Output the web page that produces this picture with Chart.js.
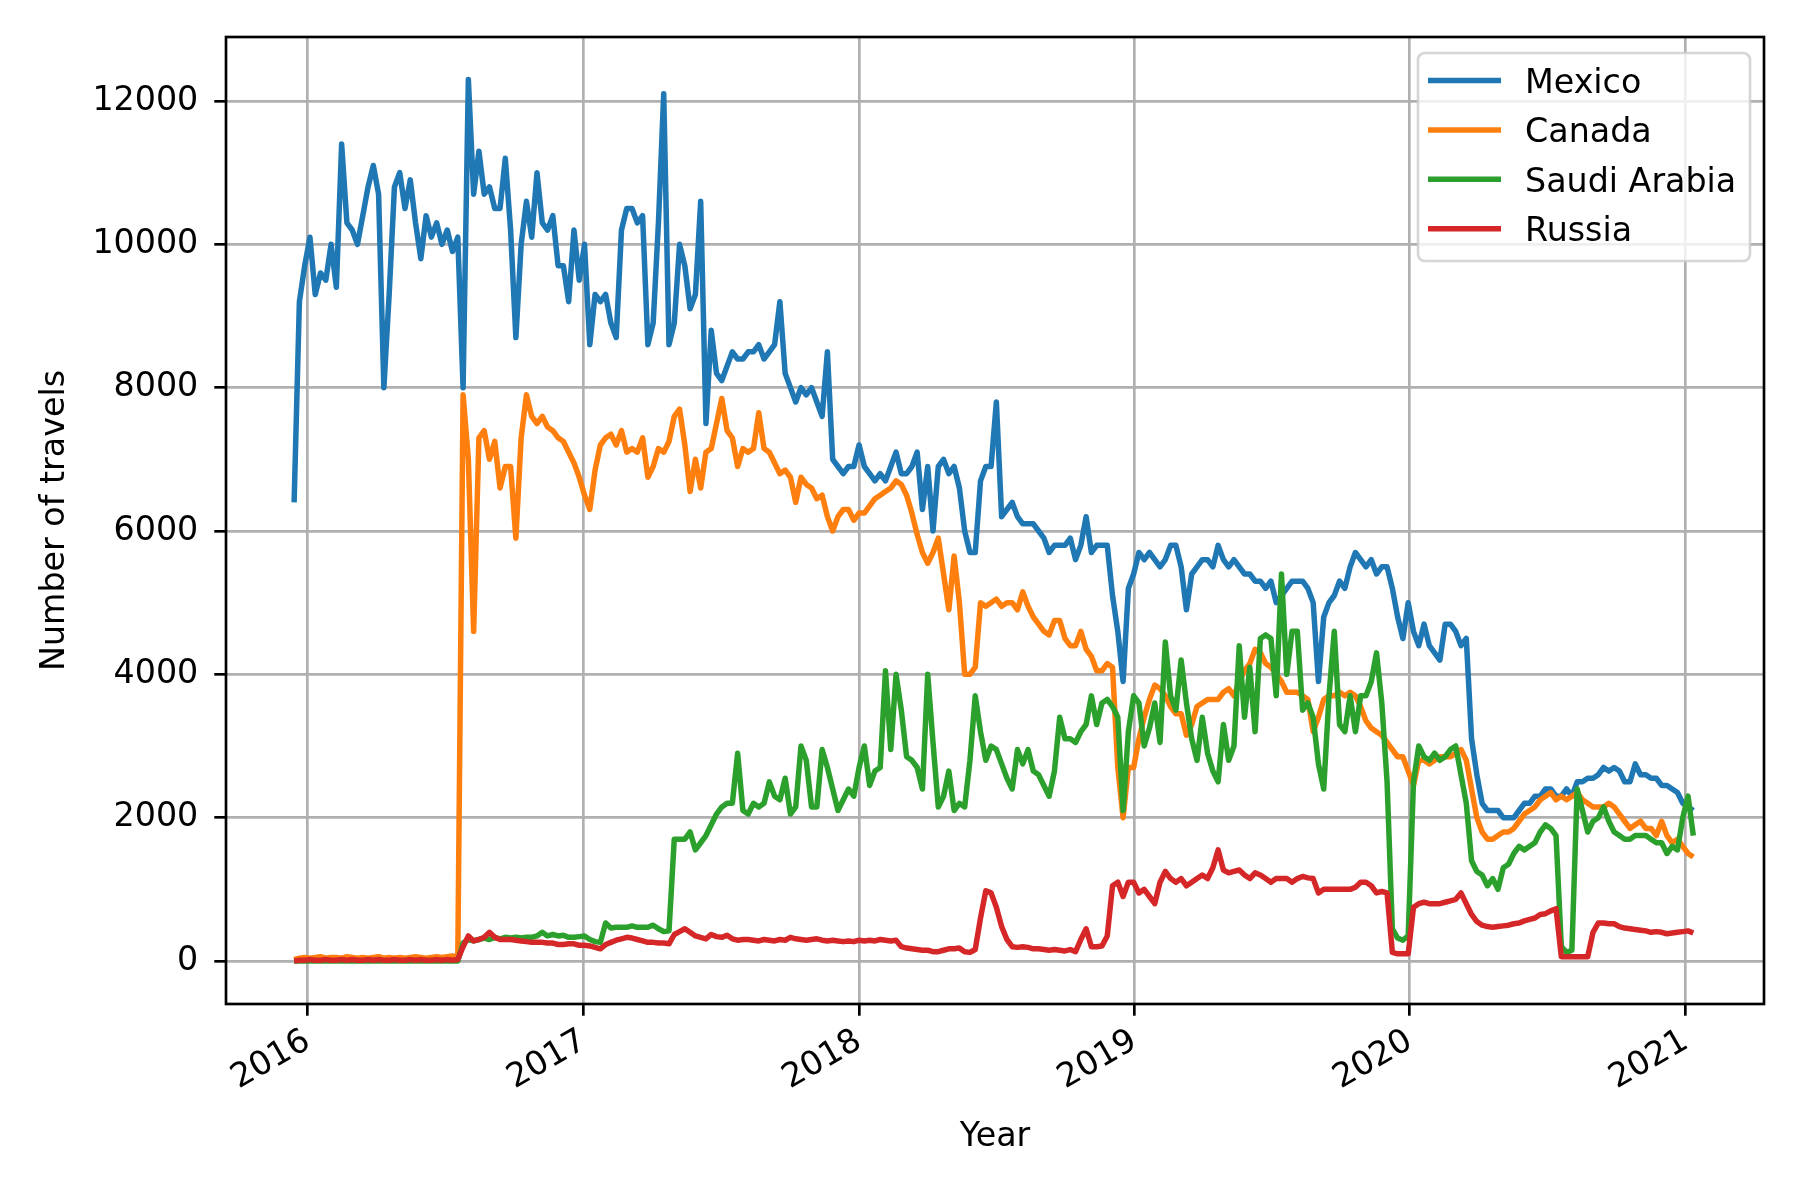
<!DOCTYPE html>
<html>
<head>
<meta charset="utf-8">
<script src="https://cdn.jsdelivr.net/npm/chart.js@4.4.1/dist/chart.umd.min.js"></script>
<style>
  body { margin: 0; background: #fff; }
  canvas { display: block; }
</style>
</head>
<body>
<canvas id="travelChart" width="1800" height="1200"></canvas>
<script>
// weekly samples starting 2015-12-14
const startDate = '2015-12-14'
const seriesNames = ['Mexico', 'Canada', 'Saudi Arabia', 'Russia']
const seriesColors = ['#1f77b4', '#ff7f0e', '#2ca02c', '#d62728']
const yearTicks = [2016, 2017, 2018, 2019, 2020, 2021]
const valueTicks = [0, 2000, 4000, 6000, 8000, 10000, 12000]

const mexico = [
  6400, 9200, 9700, 10100, 9300, 9600, 9500, 10000, 9400, 11400,
  10300, 10200, 10000, 10400, 10800, 11100, 10700, 8000, 9300, 10800,
  11000, 10500, 10900, 10300, 9800, 10400, 10100, 10300, 10000, 10200,
  9900, 10100, 8000, 12300, 10700, 11300, 10700, 10800, 10500, 10500,
  11200, 10200, 8700, 10000, 10600, 10100, 11000, 10300, 10200, 10400,
  9700, 9700, 9200, 10200, 9500, 10000, 8600, 9300, 9200, 9300,
  8900, 8700, 10200, 10500, 10500, 10300, 10400, 8600, 8900, 10300,
  12100, 8600, 8900, 10000, 9700, 9100, 9300, 10600, 7500, 8800,
  8200, 8100, 8300, 8500, 8400, 8400, 8500, 8500, 8600, 8400,
  8500, 8600, 9200, 8200, 8000, 7800, 8000, 7900, 8000, 7800,
  7600, 8500, 7000, 6900, 6800, 6900, 6900, 7200, 6900, 6800,
  6700, 6800, 6700, 6900, 7100, 6800, 6800, 6900, 7100, 6300,
  6900, 6000, 6900, 7000, 6800, 6900, 6600, 6000, 5700, 5700,
  6700, 6900, 6900, 7800, 6200, 6300, 6400, 6200, 6100, 6100,
  6100, 6000, 5900, 5700, 5800, 5800, 5800, 5900, 5600, 5800,
  6200, 5700, 5800, 5800, 5800, 5100, 4600, 3900, 5200, 5400,
  5700, 5600, 5700, 5600, 5500, 5600, 5800, 5800, 5500, 4900,
  5400, 5500, 5600, 5600, 5500, 5800, 5600, 5500, 5600, 5500,
  5400, 5400, 5300, 5300, 5200, 5300, 5000, 5100, 5200, 5300,
  5300, 5300, 5200, 5000, 3900, 4800, 5000, 5100, 5300, 5200,
  5500, 5700, 5600, 5500, 5600, 5400, 5500, 5500, 5200, 4800,
  4500, 5000, 4600, 4400, 4700, 4400, 4300, 4200, 4700, 4700,
  4600, 4400, 4500, 3100, 2600, 2200, 2100, 2100, 2100, 2000,
  2000, 2000, 2100, 2200, 2200, 2300, 2300, 2400, 2400, 2300,
  2300, 2400, 2300, 2500, 2500, 2550, 2550, 2600, 2700, 2650,
  2700, 2650, 2500, 2500, 2750, 2600, 2600, 2550, 2550, 2450,
  2450, 2400, 2350, 2200, 2150, 2100
]

const canada = [
  20, 40, 50, 40, 50, 60, 40, 50, 50, 40,
  60, 50, 40, 50, 40, 50, 60, 40, 50, 40,
  50, 40, 50, 60, 50, 40, 50, 60, 50, 60,
  70, 50, 7900, 7000, 4600, 7300, 7400, 7000, 7250, 6600,
  6900, 6900, 5900, 7300, 7900, 7600, 7500, 7600, 7450, 7400,
  7300, 7250, 7100, 6950, 6750, 6500, 6300, 6850, 7200, 7300,
  7350, 7200, 7400, 7100, 7150, 7100, 7300, 6750, 6900, 7150,
  7100, 7250, 7600, 7700, 7200, 6550, 7000, 6600, 7100, 7150,
  7500, 7850, 7400, 7300, 6900, 7150, 7100, 7150, 7650, 7150,
  7100, 6950, 6800, 6850, 6750, 6400, 6750, 6650, 6600, 6450,
  6500, 6200, 6000, 6200, 6300, 6300, 6150, 6250, 6250, 6350,
  6450, 6500, 6550, 6600, 6700, 6650, 6500, 6250, 5950, 5700,
  5550, 5700, 5900, 5400, 4900, 5650, 5000, 4000, 4000, 4100,
  5000, 4950, 5000, 5050, 4950, 5000, 5000, 4900, 5150, 4950,
  4800, 4700, 4600, 4550, 4750, 4750, 4500, 4400, 4400, 4600,
  4350, 4250, 4050, 4050, 4150, 4100, 2700, 2000, 2700, 2700,
  3100, 3400, 3650, 3850, 3800, 3700, 3550, 3450, 3450, 3150,
  3300, 3550, 3600, 3650, 3650, 3650, 3750, 3800, 3700, 3900,
  4050, 4150, 4350, 4300, 4150, 4100, 4000, 3900, 3750, 3750,
  3750, 3700, 3650, 3200, 3400, 3650, 3700, 3700, 3750, 3700,
  3750, 3700, 3550, 3350, 3250, 3200, 3150, 3050, 2950, 2850,
  2850, 2650, 2450, 2800, 2800, 2750, 2800, 2850, 2850, 2850,
  2900, 2950, 2800, 2400, 2000, 1800, 1700, 1700, 1750, 1800,
  1800, 1850, 1950, 2050, 2100, 2150, 2250, 2300, 2350, 2250,
  2300, 2250, 2300, 2350, 2250, 2200, 2150, 2150, 2150, 2200,
  2150, 2050, 1950, 1850, 1900, 1950, 1850, 1850, 1750, 1950,
  1750, 1650, 1700, 1600, 1500, 1450
]

const saudiArabia = [
  0, 0, 0, 0, 0, 0, 0, 0, 0, 0,
  0, 0, 0, 0, 0, 0, 0, 0, 0, 0,
  0, 0, 0, 0, 0, 0, 0, 0, 0, 0,
  0, 0, 250, 300, 280, 300, 320, 300, 330, 310,
  330, 320, 330, 320, 330, 330, 350, 400, 350, 370,
  350, 360, 330, 330, 340, 350, 300, 270, 260, 530,
  460, 470, 470, 470, 490, 470, 470, 470, 500, 450,
  410, 420, 1700, 1700, 1700, 1800, 1550, 1650, 1750, 1900,
  2050, 2150, 2200, 2200, 2900, 2100, 2050, 2200, 2150, 2200,
  2500, 2300, 2250, 2550, 2050, 2150, 3000, 2800, 2150, 2150,
  2950, 2700, 2400, 2100, 2250, 2400, 2300, 2700, 3000, 2450,
  2650, 2700, 4050, 2950, 4000, 3500, 2850, 2800, 2700, 2400,
  4000, 3050, 2150, 2300, 2650, 2100, 2200, 2150, 2800, 3700,
  3200, 2800, 3000, 2950, 2750, 2550, 2400, 2950, 2750, 2950,
  2650, 2600, 2450, 2300, 2650, 3400, 3100, 3100, 3050, 3200,
  3300, 3700, 3300, 3600, 3650, 3550, 3400, 2100, 3200, 3700,
  3600, 3000, 3250, 3600, 3050, 4450, 3700, 3500, 4200, 3600,
  3100, 2800, 3400, 2900, 2650, 2500, 3300, 2800, 3000, 4400,
  3400, 4100, 3200, 4500, 4550, 4500, 3700, 5400, 4000, 4600,
  4600, 3500, 3600, 3400, 2750, 2400, 3700, 4600, 3300, 3200,
  3700, 3200, 3700, 3700, 3900, 4300, 3600, 2500, 450, 320,
  290, 350, 2500, 3000, 2850, 2800, 2900, 2800, 2850, 2950,
  3000, 2600, 2200, 1400, 1250, 1200, 1050, 1150, 1000, 1300,
  1350, 1500, 1600, 1550, 1600, 1650, 1800, 1900, 1850, 1750,
  200, 120, 150, 2400, 2100, 1800, 1950, 2000, 2150, 1950,
  1800, 1750, 1700, 1700, 1750, 1750, 1750, 1700, 1650, 1650,
  1500, 1600, 1550, 2000, 2300, 1750
]

const russia = [
  0, 10, 10, 20, 10, 10, 20, 10, 10, 20,
  10, 20, 10, 10, 20, 10, 20, 10, 10, 20,
  10, 10, 20, 10, 20, 10, 10, 20, 10, 20,
  10, 20, 200, 350, 280, 300, 330, 400, 330, 300,
  300, 300, 290, 280, 270, 260, 260, 260, 250, 250,
  230, 230, 240, 240, 220, 220, 210, 190, 170, 230,
  260, 290, 310, 330, 320, 300, 280, 260, 260, 250,
  250, 240, 370, 410, 450, 400, 350, 330, 310, 370,
  340, 330, 360, 310, 290, 300, 300, 290, 280, 300,
  290, 280, 300, 290, 330, 310, 300, 290, 300, 310,
  290, 280, 290, 280, 270, 280, 270, 290, 280, 290,
  280, 300, 290, 280, 290, 200, 180, 170, 160, 150,
  150, 130, 130, 150, 170, 170, 180, 130, 120, 160,
  600, 980, 950, 750, 480, 300, 200, 190, 200, 190,
  170, 170, 160, 150, 160, 150, 140, 160, 130, 300,
  450, 200, 200, 210, 350, 1050, 1100, 900, 1100, 1100,
  950, 1000, 900, 800, 1100, 1250, 1150, 1100, 1150, 1050,
  1100, 1150, 1200, 1150, 1300, 1550, 1270, 1230, 1250, 1270,
  1200, 1150, 1230, 1200, 1150, 1100, 1150, 1150, 1150, 1100,
  1150, 1180, 1160, 1150, 950, 1000, 1000, 1000, 1000, 1000,
  1000, 1030, 1100, 1100, 1050, 950, 970, 950, 120, 100,
  100, 100, 750, 800, 820, 800, 800, 800, 820, 840,
  860, 950, 800, 650, 550, 500, 480, 470, 480, 490,
  500, 520, 530, 560, 580, 600, 650, 660, 700, 730,
  60, 60, 60, 60, 60, 60, 400, 530, 530, 520,
  520, 480, 460, 450, 440, 430, 420, 400, 410, 400,
  380, 390, 400, 410, 420, 390
]

const DAY = 86400000
const dayOf = (y, m = 0, d = 1) => Date.UTC(y, m, d) / DAY
const firstDay = Date.parse(startDate) / DAY
const weekDays = mexico.map((_, i) => firstDay + 7 * i)

const toPoints = values => values.map((v, i) => ({ x: weekDays[i], y: v }))
const allSeries = [mexico, canada, saudiArabia, russia]

const FONT = 'DejaVu Sans'
const FS = 33.3
const LW = 2.67

const whiteBg = {
  id: 'whiteBg',
  beforeDraw(chart) {
    const ctx = chart.ctx
    ctx.save()
    ctx.fillStyle = '#fff'
    ctx.fillRect(0, 0, chart.width, chart.height)
    ctx.restore()
  }
}

const frame = {
  id: 'frame',
  afterDatasetsDraw(chart) {
    const { ctx, chartArea: a } = chart
    ctx.save()
    ctx.strokeStyle = '#000'
    ctx.lineWidth = LW
    ctx.strokeRect(a.left, a.top, a.right - a.left, a.bottom - a.top)
    ctx.restore()
  }
}

const boxLegend = {
  id: 'boxLegend',
  afterDraw(chart) {
    const { ctx, chartArea: a } = chart
    const w = 332
    const h = 208
    const x = a.right - 14 - w
    const y = a.top + 16
    ctx.save()
    ctx.beginPath()
    ctx.roundRect(x, y, w, h, 6.7)
    ctx.fillStyle = 'rgba(255,255,255,0.8)'
    ctx.fill()
    ctx.lineWidth = LW
    ctx.strokeStyle = 'rgba(204,204,204,0.8)'
    ctx.stroke()
    ctx.font = `${FS}px "${FONT}"`
    ctx.textBaseline = 'alphabetic'
    ctx.textAlign = 'left'
    chart.data.datasets.forEach((ds, i) => {
      const rowY = y + 27.5 + i * 49.4
      ctx.beginPath()
      ctx.moveTo(x + 10, rowY)
      ctx.lineTo(x + 83, rowY)
      ctx.strokeStyle = ds.borderColor
      ctx.lineWidth = 5.5
      ctx.lineCap = 'butt'
      ctx.stroke()
      ctx.fillStyle = '#000'
      ctx.fillText(ds.label, x + 107, rowY + 12.2)
    })
    ctx.restore()
  }
}

new Chart(document.getElementById('travelChart'), {
  type: 'line',
  data: {
    datasets: seriesNames.map((name, i) => ({
      label: name,
      data: toPoints(allSeries[i]),
      borderColor: seriesColors[i],
      backgroundColor: seriesColors[i],
      borderWidth: 5.5,
      pointRadius: 0,
      tension: 0,
      fill: false,
      borderJoinStyle: 'round',
      order: seriesNames.length - i
    }))
  },
  options: {
    responsive: false,
    animation: false,
    devicePixelRatio: 1,
    layout: { padding: { top: 37, right: 36, left: 0, bottom: 0 } },
    plugins: {
      legend: { display: false },
      tooltip: { enabled: false }
    },
    scales: {
      x: {
        type: 'linear',
        min: 16692.7,
        max: 18731.7,
        afterBuildTicks: s => { s.ticks = yearTicks.map(y => ({ value: dayOf(y) })) },
        afterFit: s => { s.height = 196 },
        border: { display: false },
        grid: { color: '#b0b0b0', lineWidth: LW, tickColor: '#000', tickLength: 11.7, tickWidth: LW },
        ticks: {
          autoSkip: false,
          minRotation: 30,
          maxRotation: 30,
          padding: 6,
          color: '#000',
          font: { family: FONT, size: FS },
          callback: v => String(new Date(v * DAY).getUTCFullYear())
        },
        title: {
          display: true,
          text: 'Year',
          color: '#000',
          font: { family: FONT, size: FS },
          padding: { top: 0, bottom: 43 }
        }
      },
      y: {
        min: -600,
        max: 12893,
        afterBuildTicks: s => { s.ticks = valueTicks.map(v => ({ value: v })) },
        afterFit: s => { s.width = 226 },
        border: { display: false },
        grid: { color: '#b0b0b0', lineWidth: LW, tickColor: '#000', tickLength: 11.7, tickWidth: LW },
        ticks: {
          padding: 16,
          color: '#000',
          font: { family: FONT, size: FS },
          callback: v => String(v)
        },
        title: {
          display: true,
          text: 'Number of travels',
          color: '#000',
          font: { family: FONT, size: FS },
          padding: { top: 35, bottom: 0 }
        }
      }
    }
  },
  plugins: [whiteBg, frame, boxLegend]
})
</script>
</body>
</html>
